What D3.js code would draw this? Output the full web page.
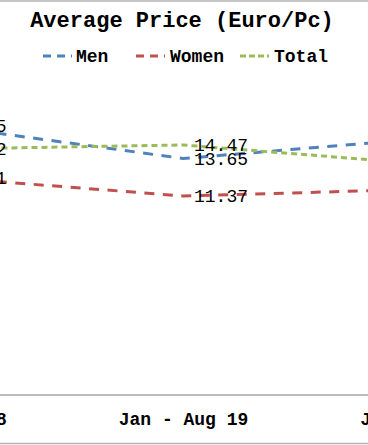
<!DOCTYPE html>
<html>
<head>
<meta charset="utf-8">
<script src="https://cdn.jsdelivr.net/npm/d3@7"></script>
<style>
  html, body { margin: 0; padding: 0; background: #fff; overflow: hidden; }
  svg { display: block; }
</style>
</head>
<body>
<script>
const categories = ["Jan - Aug 18", "Jan - Aug 19", "Jan - Aug 20"];
const menValues = [15.65, 13.65, 14.86];
const womenValues = [12.51, 11.37, 11.78];
const totalValues = [14.22, 14.47, 13.31];
const seriesNames = ["Men", "Women", "Total"];
const titleText = "Average Price (Euro/Pc)";

const W = 368, H = 445;
const font = "'Liberation Mono', 'Courier New', monospace";
const colors = { Men: "#4F81BD", Women: "#C0504D", Total: "#9BBB59" };
const dashes = { Men: "10,8.5", Women: "10,8.5", Total: "6,4" };
const legendDashes = { Men: "8,6", Women: "8,6", Total: "6,3" };

const svg = d3.select("body").append("svg").attr("width", W).attr("height", H);
svg.append("rect").attr("width", W).attr("height", H).attr("fill", "#fff");

// borders
svg.append("line").attr("x1", 0).attr("x2", W).attr("y1", 1).attr("y2", 1)
  .attr("stroke", "#b3b3b3").attr("stroke-width", 1.5);
svg.append("line").attr("x1", 0).attr("x2", W).attr("y1", 443.5).attr("y2", 443.5)
  .attr("stroke", "#b3b3b3").attr("stroke-width", 1.5);

const x = d3.scalePoint().domain(categories).range([-58.5, 424.5]);
const y = d3.scaleLinear().domain([0, 16]).range([383, 383 - 16 * 16.45]);

// category axis
const axisY = 395;
const xAxis = d3.axisBottom(x).tickSize(0).tickPadding(0);
const gx = svg.append("g").attr("transform", `translate(0,${axisY})`).call(xAxis);
gx.select(".domain").remove();
gx.append("line").attr("x1", 0).attr("x2", W).attr("y1", 0).attr("y2", 0)
  .attr("stroke", "#a6a6a6").attr("stroke-width", 1.5);
gx.selectAll(".tick text")
  .attr("font-family", font).attr("font-size", 18).attr("font-weight", "bold")
  .attr("fill", "#000").attr("y", 30).attr("dy", 0);

const data = { Men: menValues, Women: womenValues, Total: totalValues };
const line = d3.line().x((d, i) => x(categories[i])).y(d => y(d));

seriesNames.forEach(name => {
  svg.append("path").datum(data[name])
    .attr("d", line)
    .attr("fill", "none")
    .attr("stroke", colors[name])
    .attr("stroke-width", 3)
    .attr("stroke-dasharray", dashes[name]);
});

const fmt = d3.format(".2f");
seriesNames.forEach(name => {
  svg.append("g").selectAll("text").data(data[name]).join("text")
    .attr("x", (d, i) => x(categories[i]) + 11)
    .attr("y", d => y(d))
    .attr("dy", "0.35em")
    .attr("font-family", font).attr("font-size", 18)
    .attr("fill", "#000")
    .text(d => fmt(d));
});

// title
svg.append("text").attr("x", 182).attr("y", 27).attr("text-anchor", "middle")
  .attr("font-family", font).attr("font-size", 22).attr("font-weight", "bold")
  .attr("fill", "#000").text(titleText);

// legend
const legendItems = [
  { name: "Men", lx: 43, tx: 76 },
  { name: "Women", lx: 136, tx: 170 },
  { name: "Total", lx: 240, tx: 274 }
];
const lg = svg.append("g");
legendItems.forEach(it => {
  lg.append("line").attr("x1", it.lx).attr("x2", it.lx + 29).attr("y1", 56).attr("y2", 56)
    .attr("stroke", colors[it.name]).attr("stroke-width", 3)
    .attr("stroke-dasharray", legendDashes[it.name]);
  lg.append("text").attr("x", it.tx).attr("y", 56).attr("dy", "0.35em")
    .attr("font-family", font).attr("font-size", 18).attr("font-weight", "bold")
    .attr("fill", "#000").text(it.name);
});
</script>
</body>
</html>
